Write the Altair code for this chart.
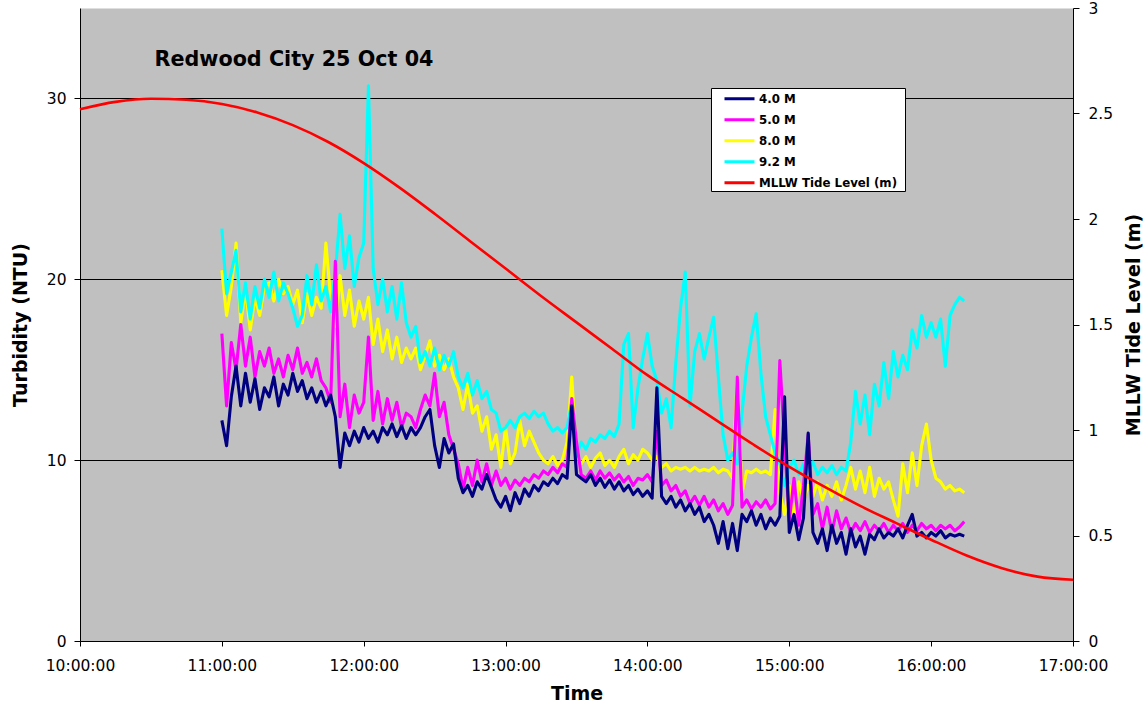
import altair as alt
import pandas as pd

# ---- data ----
SERIES = ["4.0 M", "5.0 M", "8.0 M", "9.2 M", "MLLW Tide Level (m)"]
COLORS = ["#000080", "#FF00FF", "#FFFF00", "#00FFFF", "#FF0000"]

# sample times, minutes after 11:00:00
MINUTES = [
    0, 2, 4, 6, 8, 10, 12, 14, 16, 18,
    20, 22, 24, 26, 28, 30, 32, 34, 36, 38,
    40, 42, 44, 46, 48, 50, 52, 54, 56, 58,
    60, 62, 64, 66, 68, 70, 72, 74, 76, 78,
    80, 82, 84, 86, 88, 90, 92, 94, 96, 98,
    100, 102, 104, 106, 108, 110, 112, 114, 116, 118,
    120, 122, 124, 126, 128, 130, 132, 134, 136, 138,
    140, 142, 144, 146, 148, 150, 152, 154, 156, 158,
    160, 162, 164, 166, 168, 170, 172, 174, 176, 178,
    180, 182, 184, 186, 188, 190, 192, 194, 196, 198,
    200, 202, 204, 206, 208, 210, 212, 214, 216, 218,
    220, 222, 224, 226, 228, 230, 232, 234, 236, 238,
    240, 242, 244, 246, 248, 250, 252, 254, 256, 258,
    260, 262, 264, 266, 268, 270, 272, 274, 276, 278,
    280, 282, 284, 286, 288, 290, 292, 294, 296, 298,
    300, 302, 304, 306, 308, 310, 312, 314,
]

NTU_4M = [
    12.2, 10.8, 13.5, 15.2, 13.0, 14.8, 13.2, 14.5, 12.8, 14.0,
    13.5, 14.6, 13.0, 14.2, 13.6, 14.8, 13.8, 14.4, 13.4, 14.0,
    13.2, 13.8, 13.0, 13.6, 12.4, 9.6, 11.5, 10.8, 11.6, 11.0,
    11.8, 11.2, 11.6, 11.0, 11.8, 11.4, 12.0, 11.3, 11.9, 11.2,
    11.8, 11.4, 11.8, 12.4, 12.8, 10.8, 9.6, 11.2, 10.4, 10.9,
    9.0, 8.2, 8.6, 8.0, 8.8, 8.4, 9.2, 8.5, 7.8, 7.4,
    8.0, 7.2, 8.2, 7.6, 8.4, 8.0, 8.6, 8.3, 8.8, 8.6,
    9.0, 8.7, 9.2, 9.0, 13.0, 9.2, 9.0, 8.8, 9.2, 8.6,
    9.0, 8.5, 8.9, 8.4, 8.8, 8.3, 8.6, 8.1, 8.4, 8.0,
    8.3, 7.9, 14.0, 8.0, 7.6, 8.0, 7.4, 7.8, 7.2, 7.6,
    7.0, 7.4, 6.6, 7.0, 6.4, 5.4, 6.6, 5.1, 6.5, 5.0,
    7.0, 6.6, 7.2, 6.4, 7.0, 6.2, 6.8, 6.4, 6.9, 13.5,
    6.0, 7.0, 5.6, 6.8, 11.5, 6.0, 5.4, 6.2, 5.0, 6.4,
    5.4, 6.0, 4.8, 6.2, 5.2, 5.8, 4.8, 5.9, 5.6, 6.2,
    5.7, 6.0, 5.8, 6.2, 5.7, 6.4, 7.0, 5.8, 6.0, 5.7,
    6.0, 5.8, 6.1, 5.7, 5.9, 5.8, 5.9, 5.8,
]

NTU_5M = [
    17.0, 13.0, 16.5, 15.0, 17.5, 15.2, 16.8, 14.6, 16.0, 15.2,
    16.2, 14.8, 15.6, 14.6, 15.8, 15.0, 16.2, 14.8, 15.4, 14.6,
    15.6, 14.4, 14.0, 13.2, 21.0, 12.4, 14.2, 11.8, 13.6, 12.6,
    13.2, 16.8, 12.2, 13.8, 12.0, 13.4, 12.2, 13.2, 11.8, 12.6,
    12.4, 11.8, 12.8, 13.6, 13.0, 14.8, 12.4, 13.2, 11.4, 10.6,
    9.8, 8.4, 9.6, 8.6, 10.0, 8.8, 9.8, 8.6, 9.4, 8.6,
    9.0, 8.4, 8.9, 8.6, 9.0, 8.8, 9.2, 9.0, 9.4, 9.2,
    9.6, 9.3, 9.8, 9.6, 13.4, 11.0, 9.2, 9.0, 9.4, 8.9,
    9.4, 9.0, 9.3, 8.9, 9.2, 8.8, 9.1, 8.6, 9.0, 8.9,
    9.2, 8.8, 11.6, 8.6, 8.9, 8.3, 8.6, 8.0, 8.3, 7.6,
    8.0, 7.5, 8.0, 7.4, 7.8, 7.2, 7.6, 7.0, 7.5, 14.6,
    7.4, 7.8, 7.3, 7.7, 7.4, 7.8, 7.3, 7.6, 15.5, 11.0,
    6.6, 9.0, 6.4, 8.6, 11.4, 7.0, 7.6, 6.2, 7.4, 6.0,
    7.2, 6.2, 6.8, 6.0, 6.5, 6.1, 6.6, 6.0, 6.4, 6.1,
    6.5, 6.0, 6.4, 6.1, 6.5, 6.0, 6.4, 6.1, 6.5, 6.2,
    6.4, 6.1, 6.4, 6.2, 6.4, 6.1, 6.3, 6.6,
]

NTU_8M = [
    20.5, 18.0, 19.6, 22.0, 17.6, 19.4, 17.2, 19.0, 18.0, 19.6,
    19.8, 18.8, 20.0, 19.2, 19.6, 18.6, 19.4, 17.6, 19.2, 18.0,
    19.0, 18.4, 22.0, 19.0, 17.4, 20.2, 18.0, 19.4, 17.4, 18.8,
    17.8, 19.0, 16.4, 17.8, 16.0, 17.2, 15.6, 16.8, 15.4, 16.2,
    15.6, 16.2, 15.0, 15.8, 16.6, 15.2, 15.8, 15.0, 15.6, 14.6,
    14.0, 12.8, 14.2, 12.6, 13.0, 11.6, 12.4, 10.6, 11.4, 9.6,
    11.8, 9.8, 10.4, 12.2, 10.8, 11.6, 11.0, 10.4, 10.0, 9.8,
    10.2, 9.7, 10.0, 11.0, 14.6, 10.2, 9.8, 10.2, 9.6, 10.1,
    10.4, 9.7, 10.0, 9.6, 10.2, 10.6, 9.8, 10.3, 10.0, 10.6,
    10.4, 10.0, 10.2, 9.6, 9.8, 9.4, 9.6, 9.5, 9.6, 9.4,
    9.6, 9.4, 9.5, 9.4, 9.6, 9.3, 9.5, 9.4, 9.0, 14.6,
    8.2, 9.4, 9.3, 9.5, 9.3, 9.4, 9.2, 12.8, 8.2, 7.0,
    8.6, 6.6, 8.8, 7.8, 8.6, 8.0, 8.8, 7.8, 8.6, 8.0,
    8.8, 7.8, 8.6, 9.6, 8.4, 9.4, 8.2, 9.6, 8.0, 9.0,
    8.4, 8.8, 7.8, 6.9, 9.8, 8.2, 10.4, 8.6, 10.8, 12.0,
    10.0, 9.0, 8.8, 8.4, 8.6, 8.3, 8.4, 8.2,
]

NTU_92M = [
    22.8, 19.2, 20.4, 21.6, 18.2, 19.8, 17.8, 19.6, 18.4, 20.0,
    19.0, 20.4, 18.8, 19.8, 19.2, 18.4, 17.4, 18.0, 20.2, 18.6,
    20.8, 18.8, 19.6, 18.2, 20.4, 23.6, 20.6, 22.4, 19.6, 21.2,
    22.0, 30.7, 20.6, 18.6, 20.0, 18.2, 19.6, 17.8, 19.8, 17.6,
    16.8, 17.4, 15.4, 16.0, 15.2, 16.2, 15.0, 15.8, 15.2, 16.0,
    14.6, 14.0, 14.8, 13.6, 14.4, 13.4, 13.8, 12.8, 12.6, 11.6,
    11.8, 12.2, 11.8, 12.4, 12.6, 12.3, 12.7, 12.4, 12.6, 12.0,
    11.6, 11.8, 11.5, 11.8, 13.2, 10.2, 11.0, 10.6, 11.2, 11.0,
    11.4, 11.2, 11.6, 11.3, 12.0, 16.4, 17.0, 11.8, 14.0, 15.6,
    17.0, 15.2, 14.4, 12.6, 13.4, 11.8, 15.4, 18.4, 20.4, 13.0,
    16.0, 17.0, 15.6, 16.8, 17.9, 14.6, 11.4, 10.0, 10.4, 9.8,
    12.6, 15.2, 16.8, 18.1, 14.8, 12.4, 11.4, 10.4, 9.8, 8.6,
    9.6, 10.0, 9.2, 9.8, 9.4, 9.9, 9.2, 9.6, 9.3, 9.7,
    9.2, 9.6, 9.4, 11.0, 13.8, 12.0, 13.6, 11.4, 14.2, 13.0,
    15.4, 13.4, 16.0, 14.6, 15.8, 15.0, 17.2, 16.2, 18.0, 16.8,
    17.6, 16.8, 17.8, 15.2, 18.0, 18.6, 19.0, 18.8,
]

# tide (right axis), hour of day and metres above MLLW
TIDE_HOURS = [10.0, 10.25, 10.5, 10.75, 11.0, 11.25, 11.5, 11.75, 12.0, 12.25,
              12.5, 12.75, 13.0, 13.25, 13.5, 13.75, 14.0, 14.25, 14.5, 14.75,
              15.0, 15.25, 15.5, 15.75, 16.0, 16.25, 16.5, 16.75, 17.0]
TIDE_M = [2.52, 2.555, 2.57, 2.565, 2.545, 2.505, 2.445, 2.365, 2.265, 2.15,
          2.025, 1.895, 1.765, 1.635, 1.51, 1.385, 1.26, 1.15, 1.04, 0.93,
          0.825, 0.73, 0.64, 0.56, 0.48, 0.405, 0.345, 0.305, 0.29]

X_TICKS = [10, 11, 12, 13, 14, 15, 16, 17]
LEFT_TICKS = [0, 10, 20, 30]
RIGHT_TICKS = [0, 0.5, 1, 1.5, 2, 2.5, 3]
TITLE = "Redwood City 25 Oct 04"

# ---- build tables ----
def series_df(name, values):
    return pd.DataFrame({
        "hour": [11 + m / 60 for m in MINUTES],
        "value": values,
        "series": name,
    })

df4 = series_df(SERIES[0], NTU_4M)
df5 = series_df(SERIES[1], NTU_5M)
df8 = series_df(SERIES[2], NTU_8M)
df92 = series_df(SERIES[3], NTU_92M)
tide = pd.DataFrame({"hour": TIDE_HOURS, "tide": TIDE_M, "series": SERIES[4]})
legend_box = pd.DataFrame({"k": ["box"]})

FONT = "DejaVu Sans"

color_scale = alt.Scale(domain=SERIES, range=COLORS)
legend = alt.Legend(title=None, orient="none", legendX=643, legendY=80.5)
color = alt.Color("series:N", scale=color_scale, legend=legend, sort=SERIES)

x_enc = alt.X(
    "hour:Q",
    scale=alt.Scale(domain=[10, 17], nice=False, zero=False),
    axis=alt.Axis(values=X_TICKS, labelExpr="datum.value + ':00:00'", title="Time",
                  tickSize=5, labelPadding=12, titlePadding=11, grid=False,
                  labelFlush=False),
)

left_axis = alt.Axis(title="Turbidity (NTU)", values=LEFT_TICKS, grid=True,
                     gridColor="black", gridWidth=1, gridOpacity=1,
                     tickSize=6, labelPadding=8, titlePadding=16, labelFlush=False)
y_left = alt.Y("value:Q", scale=alt.Scale(domain=[0, 35], nice=False), axis=left_axis)


def turb_line(df):
    return alt.Chart(df).mark_line(strokeWidth=3.1, strokeJoin="round").encode(
        x=x_enc, y=y_left, color=color
    )


turb = alt.layer(turb_line(df8), turb_line(df92), turb_line(df5), turb_line(df4))

tide_line = alt.Chart(tide).mark_line(strokeWidth=2.6, interpolate="monotone").encode(
    x=x_enc,
    y=alt.Y("tide:Q", scale=alt.Scale(domain=[0, 3], nice=False),
            axis=alt.Axis(title="MLLW Tide Level (m)", orient="right", values=RIGHT_TICKS,
                          format="~g", grid=False, tickSize=6, labelPadding=9,
                          titleAngle=270, titlePadding=31, labelFlush=False)),
    color=color,
)

# white framed box behind the legend entries
box = alt.Chart(legend_box).mark_rect(fill="white", stroke="black", strokeWidth=1).encode(
    x=alt.value(631.5), x2=alt.value(825.5), y=alt.value(80.5), y2=alt.value(183.5)
)

title_text = alt.Chart(pd.DataFrame({"t": [TITLE]})).mark_text(
    font=FONT, fontSize=20.7, fontWeight="bold", color="black", align="center", baseline="middle"
).encode(x=alt.value(214), y=alt.value(52), text="t:N")

chart = alt.layer(turb, tide_line, box, title_text).resolve_scale(y="independent").properties(
    width=993,
    height=633,
    padding={"left": 80, "top": 8, "right": 74, "bottom": 65},
    autosize=alt.AutoSizeParams(type="none"),
    background="white",
).configure_view(
    fill="#C0C0C0", stroke="transparent"
).configure_axis(
    domainColor="black", domainWidth=1, tickColor="black", labelColor="black",
    labelFont=FONT, labelFontSize=15.5, titleFont=FONT, titleFontSize=19,
    titleFontWeight="bold", titleColor="black",
).configure_legend(
    padding=0,
    labelFont=FONT, labelFontSize=11.8, labelFontWeight="bold", labelColor="black",
    symbolType="stroke", symbolSize=900, symbolStrokeWidth=3, labelOffset=3,
    clipHeight=20.7, rowPadding=0,
)

chart.save("out.html", embed_options={"renderer": "svg", "actions": False})
